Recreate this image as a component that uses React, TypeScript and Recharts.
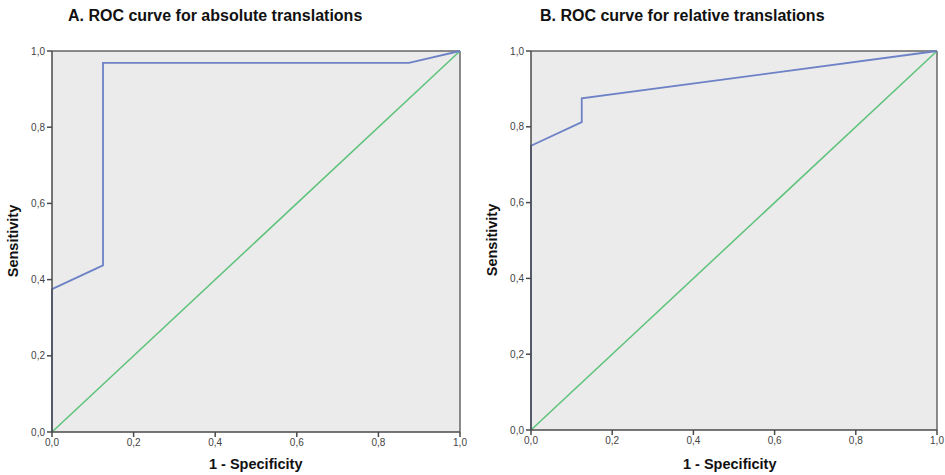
import React from 'react';
import { LineChart, Line, XAxis, YAxis, CartesianGrid, ReferenceLine } from 'recharts';

// ROC points (1 - specificity, sensitivity)
const absFpr = [0, 0, 0.125, 0.125, 0.875, 1];
const absTpr = [0, 0.375, 0.4375, 0.96875, 0.96875, 1];
const relFpr = [0, 0, 0.125, 0.125, 1];
const relTpr = [0, 0.75, 0.8125, 0.875, 1];
const refFpr = [0, 1];
const refTpr = [0, 1];
const ticks = [0, 0.2, 0.4, 0.6, 0.8, 1];

const titles = ['A. ROC curve for absolute translations', 'B. ROC curve for relative translations'];
const xLabel = '1 - Specificity';
const yLabel = 'Sensitivity';

const toRows = (xs: number[], ys: number[]) => xs.map((x, i) => ({ x, y: ys[i] }));

const curveColor = '#6d82c6';
const diagColor = '#5dc27a';
const axisColor = '#4a4a4a';
const plotBg = '#ebebeb';

const fmt = (v: number) => v.toFixed(1).replace('.', ',');
const tickStyle = { fill: '#444', fontSize: 10, fontFamily: 'Liberation Sans, Arial, sans-serif' };
const labelFont = 'Liberation Sans, Arial, sans-serif';

interface RocPanelProps {
  left: number;
  width: number;
  marginRight: number;
  marginBottom: number;
  curve: Array<{ x: number; y: number }>;
  title: string;
  titleX: number;
  xLabelX: number;
  yLabelX: number;
  yLabelY: number;
}

function RocPanel(p: RocPanelProps) {
  const diag = toRows(refFpr, refTpr);
  return (
    <div style={{ position: 'absolute', left: p.left, top: 0, width: p.width, height: 475 }}>
      <div
        style={{
          position: 'absolute',
          left: p.titleX,
          top: 7,
          fontFamily: labelFont,
          fontWeight: 700,
          fontSize: 16,
          color: '#111',
          whiteSpace: 'nowrap',
        }}
      >
        {p.title}
      </div>
      <LineChart
        width={p.width}
        height={475}
        margin={{ top: 51, right: p.marginRight, left: 12, bottom: p.marginBottom }}
      >
        <CartesianGrid fill={plotBg} stroke="none" />
        <XAxis
          type="number"
          dataKey="x"
          domain={[0, 1]}
          ticks={ticks}
          tickFormatter={fmt}
          height={30}
          tick={tickStyle}
          tickSize={5}
          stroke={axisColor}
          strokeWidth={1.5}
        />
        <YAxis
          type="number"
          dataKey="y"
          domain={[0, 1]}
          ticks={ticks}
          tickFormatter={fmt}
          width={40}
          tick={tickStyle}
          tickSize={5}
          stroke={axisColor}
          strokeWidth={1.5}
        />
        <ReferenceLine y={1} stroke="#666" strokeWidth={1.5} />
        <ReferenceLine x={1} stroke="#666" strokeWidth={1.5} />
        <Line
          data={diag}
          dataKey="y"
          type="linear"
          stroke={diagColor}
          strokeWidth={1.5}
          dot={false}
          isAnimationActive={false}
        />
        <Line
          data={p.curve}
          dataKey="y"
          type="linear"
          stroke={curveColor}
          strokeWidth={1.8}
          dot={false}
          isAnimationActive={false}
        />
      </LineChart>
      <div
        style={{
          position: 'absolute',
          left: p.xLabelX,
          top: 456,
          fontFamily: labelFont,
          fontWeight: 700,
          fontSize: 14.5,
          color: '#111',
          whiteSpace: 'nowrap',
        }}
      >
        {xLabel}
      </div>
      <div
        style={{
          position: 'absolute',
          left: p.yLabelX,
          top: p.yLabelY,
          transform: 'translate(-50%, -50%) rotate(-90deg)',
          fontFamily: labelFont,
          fontWeight: 700,
          fontSize: 14.5,
          color: '#111',
          whiteSpace: 'nowrap',
        }}
      >
        {yLabel}
      </div>
    </div>
  );
}

export default function App() {
  return (
    <div style={{ position: 'absolute', left: 0, top: 0, width: 945, height: 475, background: '#fff' }}>
      <RocPanel
        left={0}
        width={470}
        marginRight={10}
        marginBottom={13}
        curve={toRows(absFpr, absTpr)}
        title={titles[0]}
        titleX={68}
        xLabelX={209}
        yLabelX={13}
        yLabelY={241}
      />
      <RocPanel
        left={479}
        width={466}
        marginRight={8}
        marginBottom={15}
        curve={toRows(relFpr, relTpr)}
        title={titles[1]}
        titleX={61}
        xLabelX={204}
        yLabelX={13}
        yLabelY={240}
      />
    </div>
  );
}
